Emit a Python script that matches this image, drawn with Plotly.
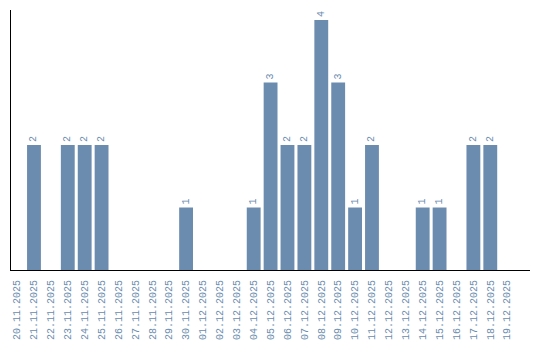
import plotly.graph_objects as go

dates = ["20.11.2025","21.11.2025","22.11.2025","23.11.2025","24.11.2025","25.11.2025",
         "26.11.2025","27.11.2025","28.11.2025","29.11.2025","30.11.2025","01.12.2025",
         "02.12.2025","03.12.2025","04.12.2025","05.12.2025","06.12.2025","07.12.2025",
         "08.12.2025","09.12.2025","10.12.2025","11.12.2025","12.12.2025","13.12.2025",
         "14.12.2025","15.12.2025","16.12.2025","17.12.2025","18.12.2025","19.12.2025"]
counts = [0,2,0,2,2,2,0,0,0,0,1,0,0,0,1,3,2,2,4,3,1,2,0,0,1,1,0,2,2,0]

bar_color = "#6b8cae"
labels = [str(v) if v > 0 else "" for v in counts]

fig = go.Figure(go.Bar(
    x=dates, y=counts, marker_color=bar_color, marker_line_width=0,
    text=labels, textposition="outside", textangle=-90,
    textfont=dict(family="Liberation Mono", size=10, color=bar_color),
    cliponaxis=False,
))
fig.update_layout(
    width=540, height=340, margin=dict(l=11, r=10, t=10, b=70, autoexpand=False),
    plot_bgcolor="white", paper_bgcolor="white", bargap=0.18, showlegend=False,
)
fig.update_xaxes(type="category", range=[-0.36, 30.35], tickangle=-90, automargin=False,
                 tickfont=dict(family="Liberation Mono", size=10, color=bar_color),
                 ticklabelstandoff=5,
                 showline=True, linecolor="black", linewidth=1, showgrid=False, ticks="")
fig.update_yaxes(range=[0, 4.16], showticklabels=False, showgrid=False, zeroline=False,
                 automargin=False,
                 showline=True, linecolor="black", linewidth=1, ticks="")
fig.write_html("out.html")
